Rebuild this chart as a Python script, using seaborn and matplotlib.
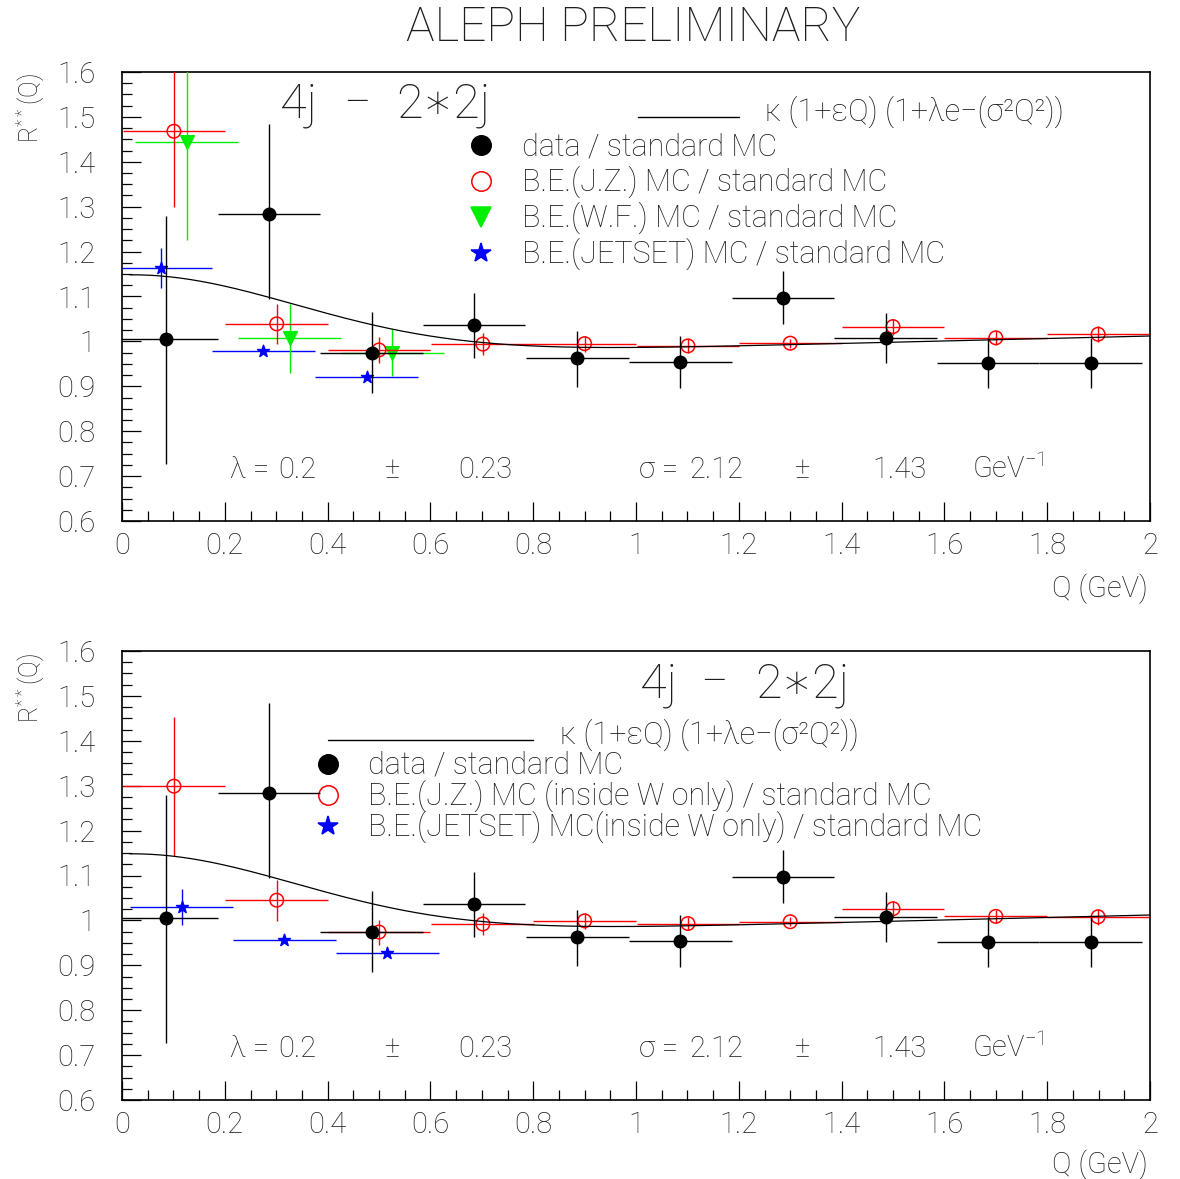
import numpy as np
import pandas as pd
import matplotlib
matplotlib.use("Agg")
import matplotlib.pyplot as plt
import seaborn as sns
from matplotlib.ticker import MultipleLocator, FuncFormatter

# ---------------- data ----------------
q_data = [0.086, 0.286, 0.486, 0.685, 0.886, 1.086, 1.286, 1.486, 1.685, 1.885]
r_data = [1.005, 1.284, 0.975, 1.036, 0.964, 0.955, 1.097, 1.008, 0.953, 0.953]
r_data_hi = [1.279, 1.485, 1.065, 1.107, 1.024, 1.012, 1.157, 1.063, 1.007, 1.007]
r_data_lo = [0.728, 1.094, 0.884, 0.964, 0.899, 0.897, 1.038, 0.951, 0.897, 0.897]

q_jz = [0.101, 0.301, 0.500, 0.702, 0.900, 1.101, 1.300, 1.500, 1.700, 1.899]
r_jz_top = [1.468, 1.039, 0.981, 0.994, 0.995, 0.990, 0.996, 1.033, 1.008, 1.016]
e_jz_top = [0.168, 0.044, 0.028, 0.025, 0.018, 0.015, 0.010, 0.018, 0.015, 0.018]
r_jz_bot = [1.299, 1.045, 0.974, 0.992, 0.999, 0.993, 0.997, 1.026, 1.009, 1.008]
e_jz_bot = [0.155, 0.046, 0.028, 0.025, 0.018, 0.015, 0.010, 0.018, 0.015, 0.018]

q_wf = [0.126, 0.326, 0.526]
r_wf = [1.445, 1.007, 0.975]
e_wf = [0.220, 0.077, 0.052]

q_js_top = [0.076, 0.275, 0.476]
r_js_top = [1.163, 0.979, 0.921]
e_js_top = [0.044, 0.006, 0.005]
q_js_bot = [0.116, 0.316, 0.516]
r_js_bot = [1.030, 0.956, 0.928]
e_js_bot = [0.040, 0.007, 0.005]

x_half_width = 0.1

# fit parameters
fit_kappa = 0.9567
fit_eps = 0.0289
fit_lambda = 0.2
fit_lambda_err = 0.23
fit_sigma = 2.12
fit_sigma_err = 1.43
fit_q_range = (0.015, 2.0)

x_ticks_major, x_ticks_minor = 0.2, 0.05
y_ticks_major, y_ticks_minor = 0.1, 0.025

# ---------------- style ----------------
sns.set_theme(style="white")
FONT = ["Roboto", "DejaVu Sans"]
plt.rcParams["font.family"] = FONT
plt.rcParams["font.weight"] = "light"
plt.rcParams["mathtext.fontset"] = "custom"
plt.rcParams["mathtext.rm"] = "Roboto:light"
plt.rcParams["mathtext.it"] = "Roboto:italic:light"

W, H = 1180, 1179
fig = plt.figure(figsize=(W / 100, H / 100), dpi=100)
fig.patch.set_facecolor("white")
TXT = "#1e1e1e"


def fx(px):
    return px / W


def fy(py):
    return 1 - py / H


def make_axes(top_px, bot_px):
    ax = fig.add_axes([fx(122), fy(bot_px), fx(1150) - fx(122), fy(top_px) - fy(bot_px)])
    ax.set_xlim(0, 2)
    ax.set_ylim(0.6, 1.6)
    ax.set_facecolor("white")
    for s in ax.spines.values():
        s.set_color("black")
        s.set_linewidth(1.2)
    ax.xaxis.set_major_locator(MultipleLocator(x_ticks_major))
    ax.xaxis.set_minor_locator(MultipleLocator(x_ticks_minor))
    ax.yaxis.set_major_locator(MultipleLocator(y_ticks_major))
    ax.yaxis.set_minor_locator(MultipleLocator(y_ticks_minor))
    fmt = FuncFormatter(lambda v, p: f"{round(v, 3):g}")
    ax.xaxis.set_major_formatter(fmt)
    ax.yaxis.set_major_formatter(fmt)
    ax.tick_params(which="both", direction="in", colors="black", width=0.9,
                   top=False, right=False, left=True, bottom=True)
    ax.tick_params(which="major", length=14)
    ax.tick_params(which="minor", length=7.5)
    ax.tick_params(axis="y", which="major", pad=19, labelsize=21, labelcolor=TXT)
    ax.tick_params(axis="x", which="major", pad=8, labelsize=21, labelcolor=TXT)
    ax.grid(False)
    return ax


def draw_series(ax, q, r, err_lo, err_hi, color, marker, size, face, z):
    ax.errorbar(q, r, yerr=[err_lo, err_hi], xerr=x_half_width, fmt="none",
                ecolor=color, elinewidth=1.0, capsize=0, zorder=z)
    df = pd.DataFrame({"Q": q, "R": r})
    sns.scatterplot(data=df, x="Q", y="R", ax=ax, marker=marker, s=size,
                    color=color, facecolor=face, edgecolor=color,
                    linewidth=1.1, zorder=z + 0.5, legend=False)


def draw_fit(ax):
    qq = np.linspace(fit_q_range[0], fit_q_range[1], 300)
    ff = fit_kappa * (1 + fit_eps * qq) * (1 + fit_lambda * np.exp(-(fit_sigma ** 2) * qq ** 2))
    sns.lineplot(x=qq, y=ff, ax=ax, color="black", linewidth=0.9, zorder=10)


def legend_marker(ax, px, py, marker, size, color, face):
    ax.plot([fx(px)], [fy(py)], transform=fig.transFigure, clip_on=False,
            marker=marker, markersize=size, color=color, markerfacecolor=face,
            markeredgecolor=color, markeredgewidth=1.1, linestyle="none")


def ftext(px, py, s, size=22, ha="left", va="baseline", **kw):
    fig.text(fx(px), fy(py), s, fontsize=size, ha=ha, va=va, color=TXT,
             family=FONT, fontweight="light", **kw)


data_lo = [r - l for r, l in zip(r_data, r_data_lo)]
data_hi = [h - r for r, h in zip(r_data, r_data_hi)]

# ---------------- top panel ----------------
ax1 = make_axes(72, 521)
draw_series(ax1, q_js_top, r_js_top, e_js_top, e_js_top, "#0000ff", "*", 80, "#0000ff", 3)
draw_series(ax1, q_wf, r_wf, e_wf, e_wf, "#00ee00", "v", 95, "#00ee00", 4)
draw_series(ax1, q_jz, r_jz_top, e_jz_top, e_jz_top, "#ff0000", "o", 95, "none", 5)
draw_series(ax1, q_data, r_data, data_lo, data_hi, "black", "o", 80, "black", 6)
draw_fit(ax1)
ax1.set_xlabel("")
ax1.set_ylabel("")

# ---------------- bottom panel ----------------
ax2 = make_axes(651, 1100)
draw_series(ax2, q_js_bot, r_js_bot, e_js_bot, e_js_bot, "#0000ff", "*", 80, "#0000ff", 3)
draw_series(ax2, q_jz, r_jz_bot, e_jz_bot, e_jz_bot, "#ff0000", "o", 95, "none", 5)
draw_series(ax2, q_data, r_data, data_lo, data_hi, "black", "o", 80, "black", 6)
draw_fit(ax2)
ax2.set_xlabel("")
ax2.set_ylabel("")

# ---------------- texts ----------------
ftext(633, 41, "ALEPH PRELIMINARY", size=34.5, ha="center")

formula = "κ (1+εQ) (1+λe−(σ²Q²))"


def channel_label(x4, xm, x2, base):
    ftext(x4, base, "4j", size=35)
    ftext(xm, base, "−", size=35)
    ftext(x2, base, "2∗2j", size=35)


# top legend
ax1.plot([fx(638), fx(739)], [fy(117), fy(117)], transform=fig.transFigure,
         clip_on=False, color="black", linewidth=1.0)
ftext(765, 121, formula, size=22)
channel_label(280, 343, 396, 118)
top_rows = [(145, "o", 14, "black", "black", "data / standard MC"),
            (181, "o", 14, "#ff0000", "none", "B.E.(J.Z.) MC / standard MC"),
            (217, "v", 15, "#00ee00", "#00ee00", "B.E.(W.F.) MC / standard MC"),
            (253, "*", 15, "#0000ff", "#0000ff", "B.E.(JETSET) MC / standard MC")]
for py, m, ms, c, f, lab in top_rows:
    legend_marker(ax1, 481, py, m, ms, c, f)
    ftext(522, py + 10, lab, size=22)

# bottom legend
ax2.plot([fx(328), fx(533)], [fy(740), fy(740)], transform=fig.transFigure,
         clip_on=False, color="black", linewidth=1.0)
ftext(560, 744, formula, size=22)
channel_label(640, 700, 755, 697)
bot_rows = [(764, "o", 14, "black", "black", "data / standard MC"),
            (795, "o", 14, "#ff0000", "none", "B.E.(J.Z.) MC (inside W only) / standard MC"),
            (826, "*", 15, "#0000ff", "#0000ff", "B.E.(JETSET) MC(inside W only) / standard MC")]
for py, m, ms, c, f, lab in bot_rows:
    legend_marker(ax2, 328, py, m, ms, c, f)
    ftext(368, py + 10, lab, size=22)

# fit results
for base in (478, 1057):
    ftext(230, base, "λ =", size=21)
    ftext(278, base, f"{fit_lambda:g}", size=21)
    ftext(385, base, "±", size=21)
    ftext(458, base, f"{fit_lambda_err:g}", size=21)
    ftext(639, base, "σ =", size=21)
    ftext(689, base, f"{fit_sigma:.2f}", size=21)
    ftext(795, base, "±", size=21)
    ftext(872, base, f"{fit_sigma_err:.2f}", size=21)
    ftext(972, base, r"GeV$^{-1}$", size=21)

# axis titles
for yc, xb in ((108, 597), (688, 1173)):
    ftext(1148, xb, "Q (GeV)", size=21, ha="right")
    fig.text(fx(30), fy(yc), r"R$^{**}$(Q)", rotation=90, fontsize=18,
             ha="center", va="center", color=TXT, family=FONT, fontweight="light")

fig.savefig("out.png", dpi=100, facecolor="white")
